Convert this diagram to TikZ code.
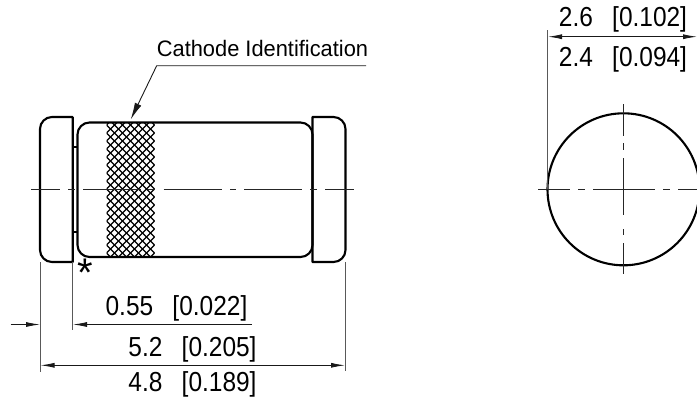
\documentclass[tikz,border=0pt]{standalone}
\usepackage{fontspec}
\usetikzlibrary{arrows.meta}
\setmainfont{Liberation Sans}
\newfontfamily\dimfont[FakeStretch=0.89]{Liberation Sans}
\newfontfamily\catfont[FakeStretch=0.975]{Liberation Sans}
\tikzset{
  outline/.style={line width=2.1pt,black,line join=round},
  thin dim/.style={line width=0.9pt,black!90},
  ext/.style={line width=1pt,black!65},
  center/.style={line width=0.9pt,black!85},
  dimtip/.style={-{Latex[length=14pt,width=5pt]}},
  dimtips/.style={{Latex[length=14pt,width=5pt]}-{Latex[length=14pt,width=5pt]}},
  dimtext/.style={anchor=base,inner sep=0pt,font=\dimfont\fontsize{27.5}{30}\selectfont},
  hatchline/.style={line width=1.2pt,black},
}
\begin{document}
\begin{tikzpicture}[x=1pt,y=-1pt]
\useasboundingbox (0,0) rectangle (697,400);
% hatching
\begin{scope}
\clip (106.5,123) rectangle (154.5,257);
\foreach \c in {-8,...,26}{
  \draw[hatchline] (106.5,{125+8*\c}) -- (166.5,{185+8*\c});
  \draw[hatchline] (106.5,{125+8*\c}) -- (166.5,{65+8*\c});
}
\end{scope}
% body and caps
\draw[outline] (72.7,117) -- (52,117) arc[start angle=90,end angle=180,x radius=12,y radius=-12] -- (40,250) arc[start angle=180,end angle=270,x radius=12,y radius=-12] -- (72.7,262) -- cycle;
\draw[outline] (312.5,117) -- (333.5,117) arc[start angle=90,end angle=0,x radius=12,y radius=-12] -- (345.5,250) arc[start angle=0,end angle=-90,x radius=12,y radius=-12] -- (312.5,262) -- cycle;
\draw[outline,rounded corners=12pt] (77.5,122.5) rectangle (312.5,257);
\draw[outline] (72.7,147) -- (77.5,147) (72.7,232) -- (77.5,232);
% centre line, left view
\draw[center] (31,189.5)--(60,189.5) (68,189.5)--(75,189.5) (83,189.5)--(141,189.5) (148,189.5)--(155,189.5)
  (163.5,189.5)--(221.7,189.5) (230,189.5)--(236,189.5) (244,189.5)--(302,189.5) (310,189.5)--(317,189.5) (325,189.5)--(354,189.5);
% circle view
\draw[outline] (623.5,189.3) circle[radius=76];
\draw[center] (538,189.3)--(570,189.3) (578,189.3)--(585,189.3) (593,189.3)--(655,189.3) (663,189.3)--(670,189.3) (678,189.3)--(697,189.3);
\draw[center] (623.8,104)--(623.8,135.7) (623.8,143)--(623.8,150) (623.8,158)--(623.8,215) (623.8,229)--(623.8,235) (623.8,243)--(623.8,274);
% extension lines
\draw[ext] (40,262)--(40,371.5);
\draw[ext] (72.6,262)--(72.6,330);
\draw[ext] (345.5,262)--(345.5,370.5);
\draw[ext] (547.7,30)--(547.7,189);
% texts
\node[dimtext] (dA) at (623,26.8) {2.6\hspace{0.7em}[0.102]};
\node[dimtext] (dB) at (623,66.5) {2.4\hspace{0.7em}[0.094]};
\node[dimtext] (dC) at (176.5,315) {0.55\hspace{0.7em}[0.022]};
\node[dimtext] (dD) at (192.5,356) {5.2\hspace{0.7em}[0.205]};
\node[dimtext] (dE) at (192.5,391.8) {4.8\hspace{0.7em}[0.189]};
\node[anchor=base,inner sep=0pt,font=\catfont\fontsize{22.4}{25}\selectfont] (cat) at (262.5,56.7) {Cathode Identification};
\node[anchor=base,inner sep=0pt,font=\fontsize{40}{42}\selectfont] (star) at (85,286) {*};
% dimension lines
\coordinate (a1) at (548,36.7); \coordinate (a2) at (697,36.7);
\draw[thin dim,dimtips] (a1)--(a2);
\coordinate (b1) at (10.5,324.5); \coordinate (b2) at (40,324.5);
\draw[thin dim,dimtip] (b1)--(b2);
\coordinate (c1) at (251.5,324.5); \coordinate (c2) at (73,324.5);
\draw[thin dim,dimtip] (c1)--(c2);
\coordinate (d1) at (40.5,365.3); \coordinate (d2) at (345,365.3);
\draw[thin dim,dimtips] (d1)--(d2);
% leader
\coordinate (l0) at (366,65.7); \coordinate (l1) at (156.7,65.7); \coordinate (l2) at (130.7,119.5);
\draw[thin dim,-{Latex[length=17pt,width=7pt]}] (l0)--(l1)--(l2);
\end{tikzpicture}
\end{document}
